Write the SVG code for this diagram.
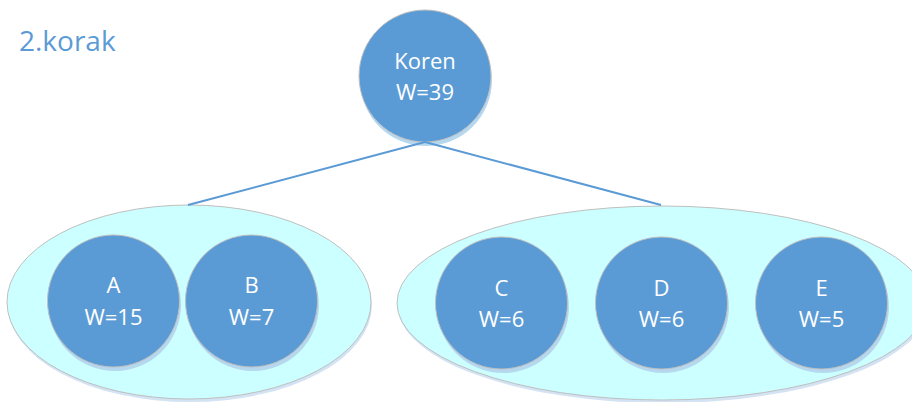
<svg xmlns="http://www.w3.org/2000/svg" width="912" height="402" viewBox="0 0 912 402">
<style>
.grp{fill:#CCFFFF;stroke:#BFBFBF;stroke-width:1}
.gsh{fill:#D3E3F3}
.nd{fill:#5B9BD5;stroke:#C0C0C0;stroke-width:1}
.nsh{fill:#B6D8EE}
.lbl{font-family:"Open Sans","Liberation Sans",sans-serif;font-size:22px;fill:#FFFFFF;text-anchor:middle}
.ttl{font-family:"Open Sans","Liberation Sans",sans-serif;font-size:28px;fill:#5B9BD5}
.edge{stroke:#5B9BD5;stroke-width:2;fill:none}
</style>
<rect width="912" height="402" fill="#FFFFFF"/>
<text class="ttl" x="19" y="51">2.korak</text>
<g id="group-left">
<ellipse class="gsh" cx="190" cy="305" rx="182" ry="97"/>
<ellipse class="grp" cx="189" cy="302" rx="182" ry="97"/>
</g>
<g id="group-right">
<ellipse class="gsh" cx="663" cy="306" rx="265" ry="97"/>
<ellipse class="grp" cx="662" cy="303" rx="265" ry="97"/>
</g>
<g id="root">
<circle class="nsh" cx="426" cy="80" r="66"/>
<circle class="nd" cx="425" cy="76" r="66"/>
<text class="lbl" x="425" y="69">Koren</text>
<text class="lbl" x="425" y="100">W=39</text>
</g>
<g id="nodeA">
<circle class="nsh" cx="115" cy="305" r="66"/>
<circle class="nd" cx="113.5" cy="301" r="66"/>
<text class="lbl" x="113.5" y="293">A</text>
<text class="lbl" x="113.5" y="325">W=15</text>
</g>
<g id="nodeB">
<circle class="nsh" cx="253" cy="305" r="66"/>
<circle class="nd" cx="251.5" cy="301" r="66"/>
<text class="lbl" x="251.5" y="293">B</text>
<text class="lbl" x="251.5" y="325">W=7</text>
</g>
<g id="nodeC">
<circle class="nsh" cx="503" cy="307" r="66"/>
<circle class="nd" cx="501.5" cy="303" r="66"/>
<text class="lbl" x="501.5" y="296">C</text>
<text class="lbl" x="501.5" y="327">W=6</text>
</g>
<g id="nodeD">
<circle class="nsh" cx="663" cy="307" r="66"/>
<circle class="nd" cx="661.5" cy="303" r="66"/>
<text class="lbl" x="661.5" y="296">D</text>
<text class="lbl" x="661.5" y="327">W=6</text>
</g>
<g id="nodeE">
<circle class="nsh" cx="823" cy="307" r="66"/>
<circle class="nd" cx="821.5" cy="303" r="66"/>
<text class="lbl" x="821.5" y="296">E</text>
<text class="lbl" x="821.5" y="327">W=5</text>
</g>
<g id="connectors">
<line class="edge" x1="425" y1="142" x2="188" y2="205"/>
<line class="edge" x1="425" y1="142" x2="661" y2="205"/>
</g>
</svg>
